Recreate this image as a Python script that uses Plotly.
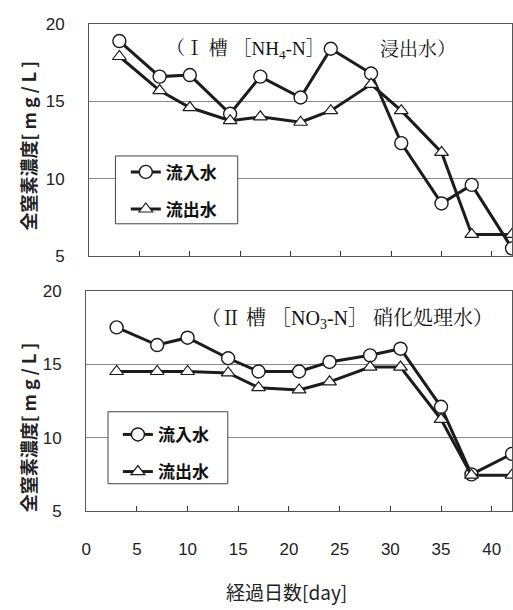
import plotly.graph_objects as go

# Sampling days (elapsed days)
days = [3, 7, 10, 14, 17, 21, 24, 28, 31, 35, 38, 42]

# Tank I (NH4-N) leachate: total nitrogen [mg/L]
tank1_inflow = [18.9, 16.6, 16.7, 14.2, 16.6, 15.25, 18.4, 16.8, 12.3, 8.4, 9.6, 5.5]
tank1_outflow = [17.9, 15.7, 14.6, 13.75, 14.0, 13.65, 14.4, 16.1, 14.4, 11.7, 6.4, 6.4]

# Tank II (NO3-N) nitrified water: total nitrogen [mg/L]
tank2_inflow = [17.5, 16.3, 16.8, 15.4, 14.5, 14.5, 15.15, 15.6, 16.05, 12.1, 7.5, 8.9]
tank2_outflow = [14.5, 14.5, 14.5, 14.4, 13.4, 13.25, 13.8, 14.8, 14.8, 11.25, 7.45, 7.45]

series_names = ["流入水", "流出水"]
y_ticks = [5, 10, 15, 20]
x_ticks = [0, 5, 10, 15, 20, 25, 30, 35, 40]

W, H = 513, 610
LINE = "#1c1c1c"
CJK = "Noto Sans CJK JP"
NUM = "Liberation Sans, Arial"
SERIF = "Liberation Serif, Noto Serif CJK JP, Noto Sans CJK JP"


def px_x(p):
    return p / W


def px_y(p):
    return 1 - p / H


fig = go.Figure()

panels = [
    ("x", "y", tank1_inflow, tank1_outflow, "legend"),
    ("x2", "y2", tank2_inflow, tank2_outflow, "legend2"),
]
for xa, ya, inflow, outflow, lg in panels:
    fig.add_trace(go.Scatter(
        x=days, y=inflow, xaxis=xa, yaxis=ya, name="<b>%s</b>" % series_names[0],
        legend=lg, legendgroup=lg + "a",
        mode="lines+markers",
        line=dict(color=LINE, width=3),
        marker=dict(symbol="circle", size=13, color="white",
                    line=dict(color=LINE, width=1.4)),
    ))
    fig.add_trace(go.Scatter(
        x=days, y=outflow, xaxis=xa, yaxis=ya, name="<b>%s</b>" % series_names[1],
        legend=lg, legendgroup=lg + "b",
        mode="lines+markers",
        line=dict(color=LINE, width=3),
        marker=dict(symbol="triangle-up", size=12, color="white",
                    line=dict(color=LINE, width=1.2)),
    ))

axis_common = dict(
    showline=True, linecolor="#555", linewidth=1.2, mirror=True,
    ticks="inside", ticklen=5, tickcolor="#333",
    zeroline=False,
)
yaxis_common = dict(
    range=[5, 20], tickvals=y_ticks, showgrid=True, gridcolor="#8a8a8a",
    gridwidth=1, ticks="", ticklabelstandoff=20,
    tickfont=dict(family=NUM, size=17, color="#222"),
    showline=True, linecolor="#555", linewidth=1.2, mirror=True,
    zeroline=False,
)
legend_common = dict(
    xanchor="left", yanchor="top", bgcolor="rgba(0,0,0,0)", borderwidth=0,
    font=dict(family=CJK, size=17, color="#111"),
    itemwidth=30, tracegroupgap=12,
)

fig.update_layout(
    width=W, height=H,
    margin=dict(l=0, r=0, t=0, b=0),
    paper_bgcolor="white", plot_bgcolor="white",
    showlegend=True,
    xaxis=dict(domain=[px_x(85), px_x(512)], range=[0, 42], anchor="y",
               tickvals=x_ticks, showticklabels=False, showgrid=False,
               **axis_common),
    yaxis=dict(domain=[px_y(255), px_y(15.5)], anchor="x", **yaxis_common),
    xaxis2=dict(domain=[px_x(82), px_x(512)], range=[0, 42], anchor="y2",
                tickvals=x_ticks, showgrid=False, ticklabelstandoff=22,
                tickfont=dict(family=NUM, size=17, color="#222"),
                **axis_common),
    yaxis2=dict(domain=[px_y(518.3), px_y(290.7)], anchor="x2", **yaxis_common),
    legend=dict(x=px_x(122), y=px_y(150), **legend_common),
    legend2=dict(x=px_x(114), y=px_y(421), **legend_common),
)

# legend frames
for x0, y0, x1, y1 in [(111.5, 151.7, 235, 221.7), (104, 415.7, 225, 490)]:
    fig.add_shape(type="rect", xref="paper", yref="paper",
                  x0=px_x(x0), x1=px_x(x1), y0=px_y(y1), y1=px_y(y0),
                  line=dict(color="#444", width=1), fillcolor="white",
                  layer="above")

annotations = [
    dict(text="（Ⅰ 槽 ［NH<sub>4</sub>-N］", x=px_x(242.5), y=px_y(42),
         font=dict(family=SERIF, size=19, color="#111")),
    dict(text="浸出水）", x=px_x(417.5), y=px_y(42),
         font=dict(family=SERIF, size=19, color="#111")),
    dict(text="（Ⅱ 槽 ［NO<sub>3</sub>-N］ 硝化処理水）", x=px_x(345), y=px_y(320),
         font=dict(family=SERIF, size=20, color="#111")),
    dict(text="<b>全窒素濃度[ m g / L ]</b>", x=px_x(23), y=px_y(141), textangle=-90,
         font=dict(family=CJK, size=18, color="#222")),
    dict(text="<b>全窒素濃度[ m g / L ]</b>", x=px_x(23), y=px_y(432), textangle=-90,
         font=dict(family=CJK, size=18, color="#222")),
    dict(text="経過日数[day]", x=px_x(284), y=px_y(601),
         font=dict(family=CJK, size=19, color="#222")),
]
for a in annotations:
    fig.add_annotation(xref="paper", yref="paper", showarrow=False,
                       xanchor="center", yanchor="middle", **a)

fig.write_html("out.html")
